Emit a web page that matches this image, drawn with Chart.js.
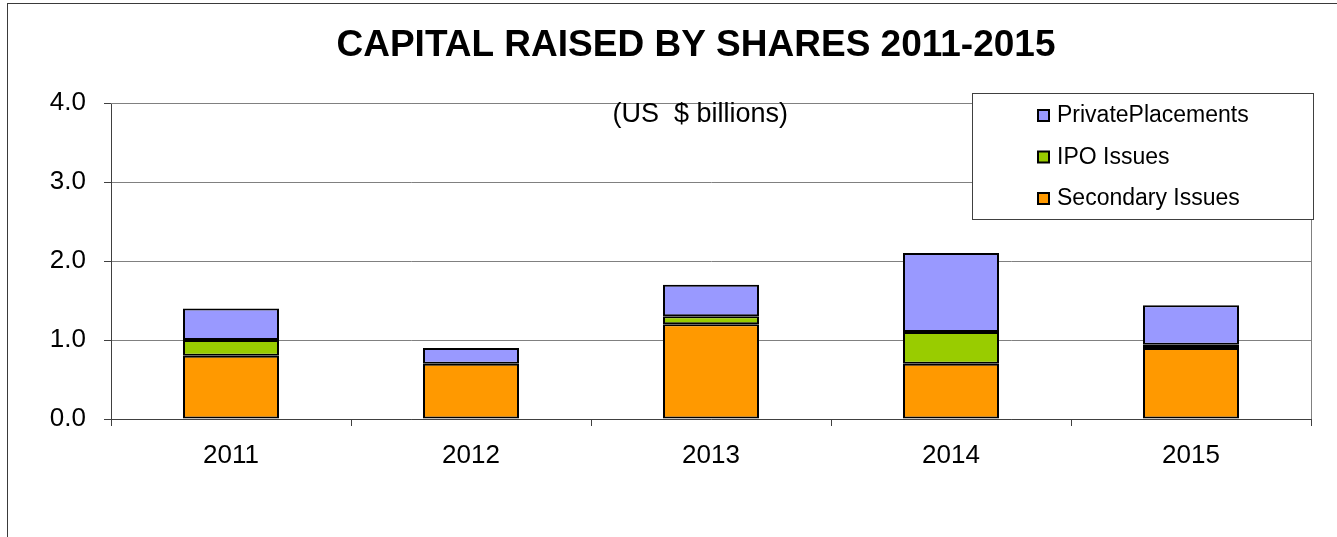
<!DOCTYPE html>
<html>
<head>
<meta charset="utf-8">
<script src="https://cdn.jsdelivr.net/npm/chart.js@4"></script>
<style>
  html, body { margin: 0; padding: 0; background: #fff; }
  #wrap { width: 1337px; height: 537px; }
</style>
</head>
<body>
<div id="wrap"><canvas id="capitalChart" width="1337" height="537"></canvas></div>
<script>
const years = ["2011", "2012", "2013", "2014", "2015"];
const secondaryIssues = [0.8, 0.7, 1.2, 0.7, 0.9];
const ipoIssues = [0.2, 0.0, 0.1, 0.4, 0.04];
const privatePlacements = [0.4, 0.2, 0.4, 1.0, 0.5];
const yTicks = [0, 1, 2, 3, 4];

const FONT = "'Liberation Sans', Arial, sans-serif";
const TITLE = "CAPITAL RAISED BY SHARES 2011-2015";
const SUBTITLE = "(US  $ billions)";

// frame, title, plot border, subtitle and the boxed legend
const decorations = {
  id: "decorations",
  beforeDraw(chart) {
    const a = chart.chartArea;
    const c = chart.ctx;
    c.save();
    c.strokeStyle = "#3a3a3a";
    c.lineWidth = 1;
    c.strokeRect(7.5, 3.5, chart.width + 20, chart.height + 20);
    c.fillStyle = "#000";
    c.font = "bold 37px " + FONT;
    c.textAlign = "center";
    c.textBaseline = "middle";
    c.fillText(TITLE, a.left + a.width * 0.4875, 46);
    c.restore();
  },
  beforeDatasetsDraw(chart) {
    const a = chart.chartArea;
    const c = chart.ctx;
    c.save();
    c.strokeStyle = "#808080";
    c.lineWidth = 1;
    c.beginPath();
    c.moveTo(a.left, a.top + 0.5);
    c.lineTo(a.right + 0.5, a.top + 0.5);
    c.lineTo(a.right + 0.5, a.bottom);
    c.stroke();
    c.restore();
  },
  afterDraw(chart) {
    const a = chart.chartArea;
    const c = chart.ctx;
    c.save();
    c.fillStyle = "#000";
    c.font = "27px " + FONT;
    c.textAlign = "center";
    c.textBaseline = "middle";
    c.fillText(SUBTITLE, a.left + a.width * 0.491, a.top + 12);

    const bx = a.right - 339;
    const by = a.top - 10;
    const bw = 341;
    const bh = 126;
    c.fillStyle = "#fff";
    c.fillRect(bx + 0.5, by + 0.5, bw, bh);
    c.strokeStyle = "#404040";
    c.lineWidth = 1;
    c.strokeRect(bx + 0.5, by + 0.5, bw, bh);

    const items = chart.data.datasets.slice().reverse();
    c.font = "23px " + FONT;
    c.textAlign = "left";
    items.forEach((ds, i) => {
      const cy = by + 22 + i * 41.5;
      c.fillStyle = ds.backgroundColor;
      c.fillRect(bx + 66, cy - 5, 11, 11);
      c.strokeStyle = "#000";
      c.lineWidth = 2;
      c.strokeRect(bx + 66, cy - 5, 11, 11);
      c.fillStyle = "#000";
      c.fillText(ds.label, bx + 85, cy + 1);
    });
    c.restore();
  },
};

new Chart(document.getElementById("capitalChart"), {
  type: "bar",
  data: {
    labels: years,
    datasets: [
      { label: "Secondary Issues", data: secondaryIssues, backgroundColor: "#FF9900" },
      { label: "IPO Issues", data: ipoIssues, backgroundColor: "#99CC00" },
      { label: "PrivatePlacements", data: privatePlacements, backgroundColor: "#9999FF" },
    ],
  },
  options: {
    responsive: false,
    animation: false,
    maintainAspectRatio: false,
    layout: { padding: { left: 20, right: 26, top: 103, bottom: 0 } },
    datasets: {
      bar: {
        barPercentage: 0.4,
        categoryPercentage: 1,
        borderColor: "#000",
        borderWidth: 2,
        borderSkipped: false,
      },
    },
    scales: {
      x: {
        stacked: true,
        grid: {
          offset: true,
          drawOnChartArea: false,
          drawTicks: true,
          tickLength: 7,
          tickColor: "#404040",
        },
        border: { color: "#404040", width: 1 },
        ticks: { color: "#000", font: { family: FONT, size: 26 }, padding: 14 },
        afterFit(scale) { scale.height = 118; },
      },
      y: {
        stacked: true,
        min: 0,
        max: 4,
        afterBuildTicks(scale) { scale.ticks = yTicks.map((v) => ({ value: v })); },
        grid: { color: "#808080", tickColor: "#404040", tickLength: 7 },
        border: { color: "#404040", width: 1 },
        ticks: {
          color: "#000",
          font: { family: FONT, size: 26 },
          padding: 18,
          callback: (v) => Number(v).toFixed(1),
        },
        afterFit(scale) { scale.width = 91; },
      },
    },
    plugins: {
      legend: { display: false },
      tooltip: { enabled: false },
      title: { display: false },
    },
  },
  plugins: [decorations],
});
</script>
</body>
</html>
